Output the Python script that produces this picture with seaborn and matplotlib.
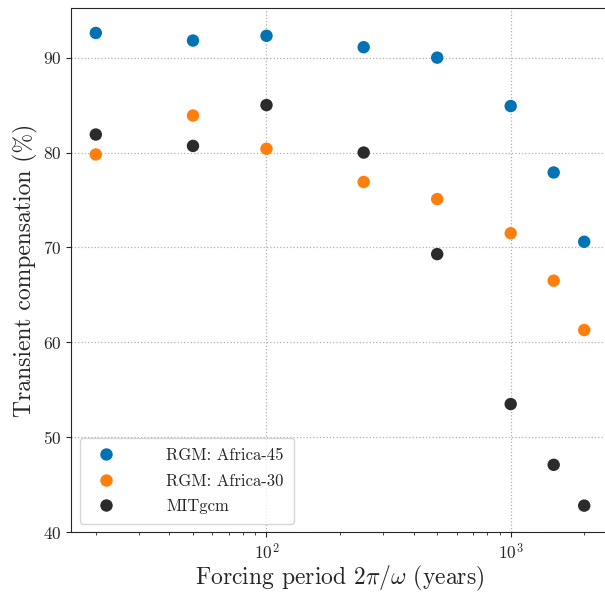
import pandas as pd
import matplotlib
matplotlib.use('Agg')
import matplotlib.pyplot as plt
import seaborn as sns

# Forcing periods (years) and transient compensation (%)
periods = [20, 50, 100, 250, 500, 1000, 1500, 2000]
africa45 = [92.6, 91.8, 92.3, 91.1, 90.0, 84.9, 77.9, 70.6]
africa30 = [79.8, 83.9, 80.4, 76.9, 75.1, 71.5, 66.5, 61.3]
mitgcm = [81.9, 80.7, 85.0, 80.0, 69.3, 53.5, 47.1, 42.8]
labels = ['RGM: Africa-45', 'RGM: Africa-30', 'MITgcm']
colors = ['#0173b2', '#ff7f0e', '#2b2b2b']

df = pd.concat([
    pd.DataFrame({'period': periods, 'comp': vals, 'model': lab})
    for vals, lab in zip([africa45, africa30, mitgcm], labels)
])

sns.set_style('ticks')
plt.rcParams['font.family'] = 'serif'
plt.rcParams['font.serif'] = ['cmr10', 'DejaVu Serif']
plt.rcParams['mathtext.fontset'] = 'cm'
plt.rcParams['axes.formatter.use_mathtext'] = True
plt.rcParams['axes.unicode_minus'] = False

fig = plt.figure(figsize=(6.05, 5.92), dpi=100)
ax = fig.add_axes([0.118, 0.101, 0.888, 0.885])
sns.scatterplot(data=df, x='period', y='comp', hue='model', palette=colors,
                s=80, edgecolor='none', ax=ax, zorder=3)
ax.set_xscale('log')
ax.set_ylim(40, 95.2)
ax.set_yticks([40, 50, 60, 70, 80, 90])
ax.grid(True, which='major', linestyle=':', color='#b0b0b0', linewidth=0.9)
ax.set_xlabel(r'Forcing period $2\pi/\omega$ (years)', fontsize=17, labelpad=1)
ax.set_ylabel('Transient compensation (%)', fontsize=17)
ax.tick_params(labelsize=12.5)
ax.legend(title=None, fontsize=12, loc='lower left', markerscale=1.0,
          frameon=True, framealpha=0.8, borderpad=0.6, labelspacing=0.6,
          handletextpad=2.6)

plt.savefig('out.png', dpi=100)
